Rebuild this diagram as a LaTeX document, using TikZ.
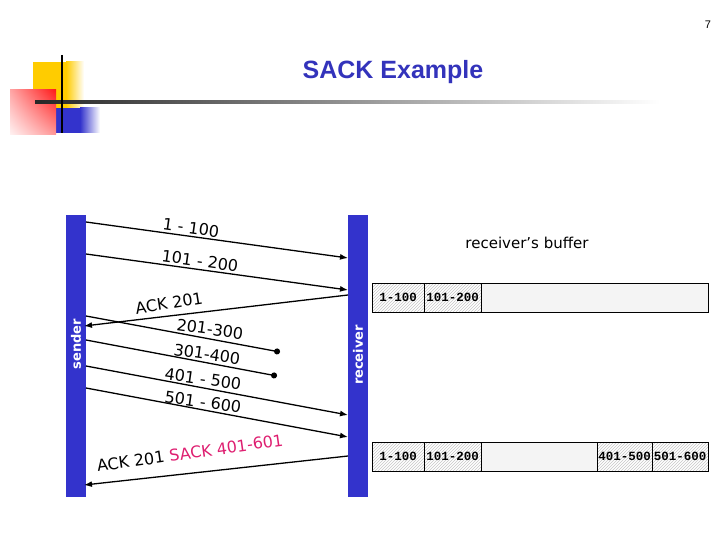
\documentclass[tikz,border=0pt]{standalone}
\usepackage{fontspec}
\setmainfont{Liberation Sans}
\newfontfamily\handfont{DejaVu Sans}
\newfontfamily\bufffont{Liberation Mono}
\usetikzlibrary{positioning,arrows.meta,patterns,shadings,calc}
\definecolor{barblue}{RGB}{51,51,204}
\definecolor{titleblue}{RGB}{51,51,187}
\definecolor{sackpink}{RGB}{222,30,112}
\definecolor{decoyellow}{RGB}{255,204,0}
\definecolor{bufgray}{RGB}{244,244,244}

\begin{document}
\begin{tikzpicture}[x=1pt, y=-1pt,
  every node/.style={inner sep=0pt, outer sep=0pt},
  bar/.style={fill=barblue, minimum width=20pt, minimum height=282pt},
  barlabel/.style={font=\handfont\fontsize{13}{13}\selectfont\bfseries, text=white, rotate=90},
  seg/.style={-{Latex[length=8pt,width=6pt]}, line width=1.3pt},
  lost/.style={-{Circle[length=6pt]}, line width=1.3pt},
  seglabel/.style={font=\handfont\fontsize{16}{16}\selectfont},
  cell/.style={draw, line width=0.7pt, pattern=north east lines, pattern color=black!22,
               minimum height=29pt, font=\bufffont\fontsize{12.5}{12.5}\selectfont\bfseries},
  gap/.style={draw, line width=0.7pt, fill=bufgray, minimum height=29pt},
]
\useasboundingbox (0,0) rectangle (720,540);
% ---- slide decoration and title ----
\fill[decoyellow] (33,62) rectangle (66,110);
\shade[left color=decoyellow, right color=white] (66,62) rectangle (84,110);
\fill[barblue] (42,108) rectangle (80,133);
\shade[left color=barblue, right color=white] (80,108) rectangle (100,133);
\shade[upper right=red!90, upper left=red!35, lower right=red!40, lower left=red!5] (10,90) rectangle (56,135);
\shade[left color=black!85, right color=white] (35,100.5) rectangle (660,103.5);
\draw[line width=2pt] (62,55) -- (62,133);
\node[font=\fontsize{25}{25}\selectfont\bfseries, text=titleblue] (title) at (393,72) {SACK Example};
\node[font=\fontsize{11}{11}\selectfont] (pageno) at (708,25) {7};
% ---- sender and receiver ----
\node[bar] (sender) at (76,356) {};
\node[bar] (receiver) at (358,356) {};
\node[barlabel] (sndlabel) at (76,344) {sender};
\node[barlabel] (rcvlabel) at (358,355) {receiver};
% end points on the two bars
\coordinate (s1) at (86,222);  \coordinate (r1) at (348,258);
\coordinate (s2) at (86,254);  \coordinate (r2) at (348,290);
\coordinate (r3) at (348,295); \coordinate (s3) at (84,326);
\coordinate (s4) at (86,316);  \coordinate (x4) at (280,352);
\coordinate (s5) at (86,340);  \coordinate (x5) at (277,376);
\coordinate (s6) at (86,366);  \coordinate (r6) at (348,415);
\coordinate (s7) at (86,388);  \coordinate (r7) at (348,437);
\coordinate (r8) at (348,456); \coordinate (s8) at (84,485);
% segments and acks
\draw[seg] (s1) -- (r1);
\draw[seg] (s2) -- (r2);
\draw[seg] (r3) -- (s3);
\draw[lost] (s4) -- (x4);
\draw[lost] (s5) -- (x5);
\draw[seg] (s6) -- (r6);
\draw[seg] (s7) -- (r7);
\draw[seg] (r8) -- (s8);
\node[seglabel, rotate=-8] (l1) at (191,228) {1 - 100};
\node[seglabel, rotate=-8] (l2) at (200,261) {101 - 200};
\node[seglabel, rotate=9]  (l3) at (169,303) {ACK 201};
\node[seglabel, rotate=-8] (l4) at (210,329) {201-300};
\node[seglabel, rotate=-8] (l5) at (207,354) {301-400};
\node[seglabel, rotate=-8] (l6) at (203,379) {401 - 500};
\node[seglabel, rotate=-8] (l7) at (203,402) {501 - 600};
\node[seglabel, rotate=8]  (l8) at (190,453) {ACK 201 \textcolor{sackpink}{SACK 401-601}};
% ---- receiver's buffer ----
\node[font=\handfont\fontsize{15}{15}\selectfont] (buflabel) at (527,243) {receiver’s buffer};
\node[cell, minimum width=52pt, anchor=north west] (ba1) at (372,283) {1-100};
\node[cell, minimum width=57pt, right=0pt of ba1] (ba2) {101-200};
\node[gap, minimum width=227pt, right=0pt of ba2] (ba3) {};
\node[cell, minimum width=52pt, anchor=north west] (bb1) at (372,442) {1-100};
\node[cell, minimum width=57pt, right=0pt of bb1] (bb2) {101-200};
\node[gap, minimum width=116pt, right=0pt of bb2] (bb3) {};
\node[cell, minimum width=55pt, right=0pt of bb3] (bb4) {401-500};
\node[cell, minimum width=56pt, right=0pt of bb4] (bb5) {501-600};
\end{tikzpicture}
\end{document}
